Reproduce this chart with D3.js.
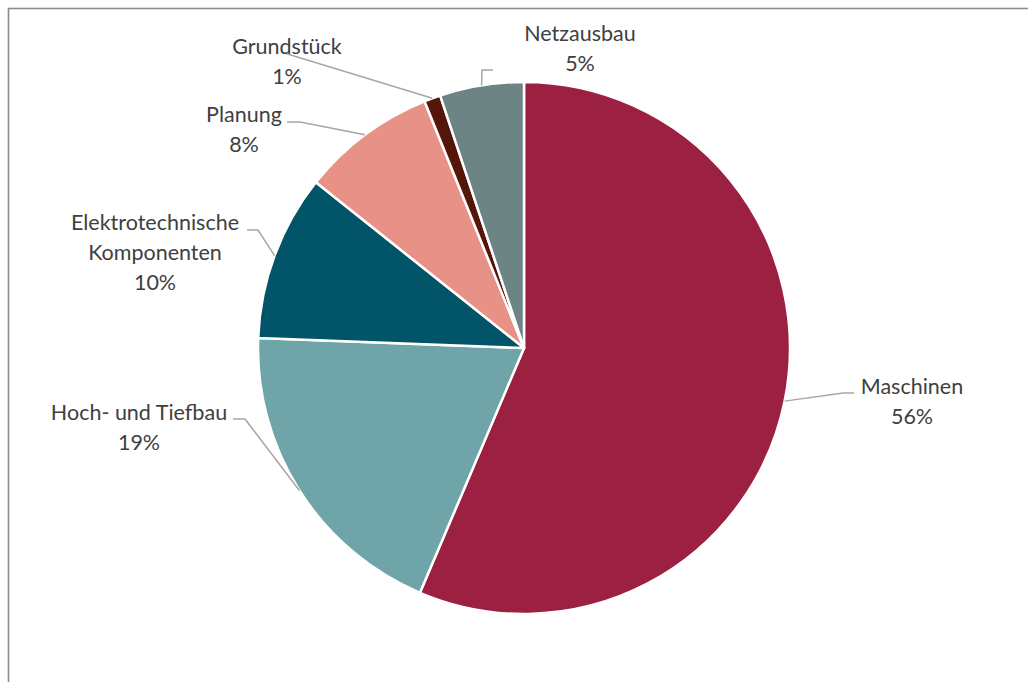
<!DOCTYPE html>
<html>
<head>
<meta charset="utf-8">
<script src="https://cdn.jsdelivr.net/npm/d3@7"></script>
<style>
  html, body { margin: 0; padding: 0; background: #fff; }
  svg { display: block; }
</style>
</head>
<body>
<svg id="chart"></svg>
<script>
// Kostenanteile (in %)
const categories = ["Maschinen", "Hoch- und Tiefbau", "Elektrotechnische Komponenten", "Planung", "Grundstück", "Netzausbau"];
const values = [56.4, 19.2, 10.1, 8.2, 1.0, 5.1];
const colors = ["#9b2042", "#6fa5a8", "#025468", "#e89287", "#561509", "#6d8485"];

// label layout: text lines, label center, leader elbow/end points
const labelLayout = [
  {lines: ["Maschinen"], x: 912, y: 386, leader: [[843, 393], [854, 393]]},
  {lines: ["Hoch- und Tiefbau"], x: 139, y: 412, leader: [[245, 419], [233, 419]]},
  {lines: ["Elektrotechnische", "Komponenten"], x: 155, y: 222, leader: [[258, 230], [247, 230]]},
  {lines: ["Planung"], x: 244, y: 114, leader: [[300, 122], [287, 122]]},
  {lines: ["Grundstück"], x: 287, y: 46, leader: [[281, 52]]},
  {lines: ["Netzausbau"], x: 580, y: 33, leader: [[482, 70], [493, 70]]}
];

const width = 1028, height = 682;
const cx = 524, cy = 348, radius = 266;
const lineH = 30;

const svg = d3.select("#chart")
    .attr("width", width)
    .attr("height", height);

// Rahmen
svg.append("rect")
    .attr("x", 8.5)
    .attr("y", 8.5)
    .attr("width", width + 20)
    .attr("height", height + 20)
    .attr("fill", "none")
    .attr("stroke", "#8c8c8c")
    .attr("stroke-width", 1.6);

const pie = d3.pie().sort(null).value(d => d);
const arcs = pie(values);

const arc = d3.arc().innerRadius(0).outerRadius(radius);

const g = svg.append("g")
    .attr("transform", `translate(${cx},${cy})`);

g.selectAll("path.slice")
    .data(arcs)
    .enter()
    .append("path")
    .attr("class", "slice")
    .attr("d", arc)
    .attr("fill", (d, i) => colors[i])
    .attr("stroke", "#fff")
    .attr("stroke-width", 2.5)
    .attr("stroke-linejoin", "round");

// Leader lines, starting at the middle of each slice's outer edge
const fmt = d3.format(".0f");
const line = d3.line();

arcs.forEach((d, i) => {
    const a = (d.startAngle + d.endAngle) / 2;
    const start = [cx + radius * Math.sin(a), cy - radius * Math.cos(a)];
    const lay = labelLayout[i];
    svg.append("path")
        .attr("d", line([start].concat(lay.leader)))
        .attr("fill", "none")
        .attr("stroke", "#a6a6a6")
        .attr("stroke-width", 1.5);

    const text = svg.append("text")
        .attr("text-anchor", "middle")
        .attr("font-family", "Lato, 'Open Sans', sans-serif")
        .attr("font-size", 21.5)
        .attr("fill", "#404040");
    const allLines = lay.lines.concat([fmt(values[i]) + "%"]);
    allLines.forEach((t, k) => {
        text.append("tspan")
            .attr("x", lay.x)
            .attr("y", lay.y + k * lineH)
            .attr("dominant-baseline", "central")
            .text(t);
    });
});
</script>
</body>
</html>
